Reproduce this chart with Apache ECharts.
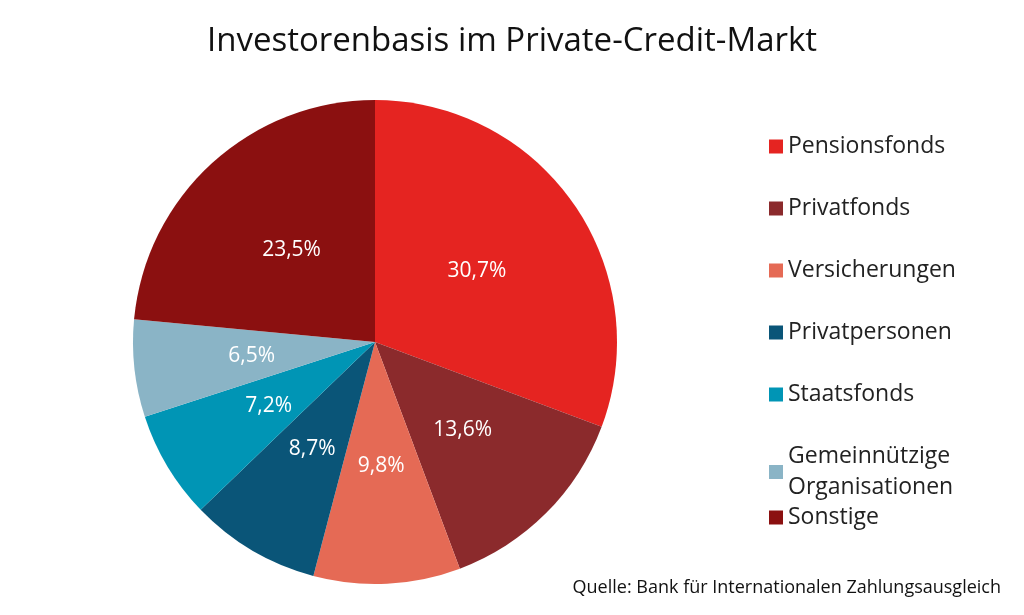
<!DOCTYPE html>
<html><head><meta charset="utf-8">
<script src="https://cdn.jsdelivr.net/npm/echarts@6/dist/echarts.min.js"></script>
<style>html,body{margin:0;padding:0;background:#fff}#c{width:1024px;height:615px}</style>
</head><body><div id="c"></div>
<script>
const categories = ["Pensionsfonds","Privatfonds","Versicherungen","Privatpersonen","Staatsfonds","Gemeinnützige\nOrganisationen","Sonstige"];
const values = [30.7,13.6,9.8,8.7,7.2,6.5,23.5];
const colors = ["#e52421","#8b2a2c","#e56a55","#0a5578","#0095b5","#8ab4c6","#8b1010"];
const font = "Open Sans";
const chart = echarts.init(document.getElementById('c'));
const legendBase = {orient:'vertical',left:764,itemWidth:14,itemHeight:14,icon:'rect',
  itemGap:31,textStyle:{fontFamily:font,fontSize:23,color:'#222',lineHeight:31}};
chart.setOption({
  color: colors,
  title:[{text:"Investorenbasis im Private-Credit-Markt",left:'center',top:20,
    textStyle:{fontFamily:font,fontSize:33,fontWeight:'normal',color:'#111'}},
    {text:"Quelle: Bank für Internationalen Zahlungsausgleich",right:18,top:574,
    textStyle:{fontFamily:font,fontSize:18,fontWeight:'normal',color:'#111'}}],
  legend:[Object.assign({},legendBase,{top:126,data:categories.slice(0,6)}),
          Object.assign({},legendBase,{top:497,data:[categories[6]]})],
  series:[{type:'pie',center:[375,342],radius:[0,242],startAngle:90,clockwise:true,
    animation:false,
    label:{position:'inner',color:'#fff',fontFamily:font,fontSize:21,
      formatter:p=>p.value.toFixed(1).replace('.',',')+'%'},
    labelLine:{show:false},
    data:categories.map((c,i)=>({name:c,value:values[i]}))}]
});
</script></body></html>
